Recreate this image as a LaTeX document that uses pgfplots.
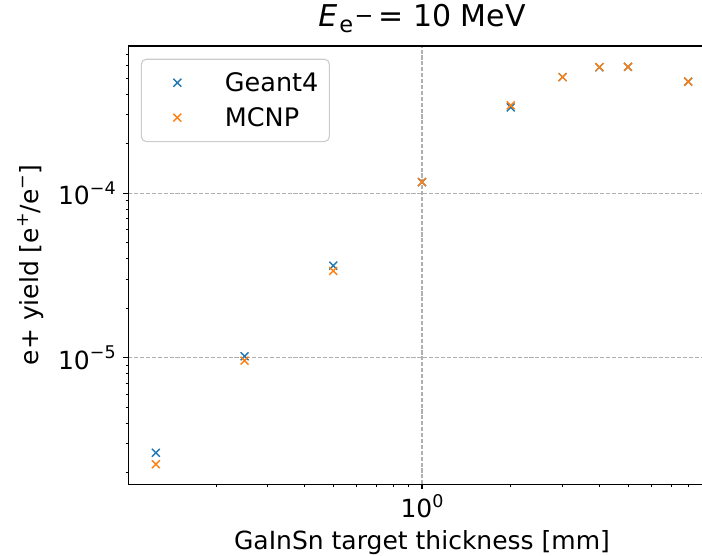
\documentclass[border=0pt]{standalone}
\usepackage{fontspec}
\setmainfont{DejaVu Sans}
\usepackage{pgfplots}
\pgfplotsset{compat=1.18}
\definecolor{tabblue}{HTML}{1F77B4}
\definecolor{taborange}{HTML}{FF7F0E}
\definecolor{gridgray}{HTML}{B0B0B0}
\definecolor{leggray}{HTML}{CCCCCC}
\newcommand{\fs}{\fontsize{25}{30}\selectfont}
\newcommand{\sups}[1]{\raisebox{0.42em}{\fontsize{17.5}{17.5}\selectfont #1}}
\pgfplotsset{
  myleg/.style={legend image code/.code={%
    \draw[mark repeat=2,mark phase=2,##1,/tikz/only marks] plot coordinates {(0pt,9pt) (25pt,9pt) (50pt,9pt)};
    \path[draw=none,fill=none] (0pt,9pt) -- (72.6pt,9pt);}}
}
\begin{document}
\begin{tikzpicture}
\begin{axis}[
  xmode=log, ymode=log,
  scale only axis, width=587.4pt, height=438.3pt,
  xmin=0.1008, xmax=9.92, ymin=1.698e-6, ymax=7.87e-4,
  xtick={1}, xticklabels={10\sups{0}},
  minor xtick={0.2,0.3,0.4,0.5,0.6,0.7,0.8,0.9,2,3,4,5,6,7,8,9},
  ytick={1e-5,1e-4}, yticklabels={10\sups{−5},10\sups{−4}},
  minor ytick={2e-6,3e-6,4e-6,5e-6,6e-6,7e-6,8e-6,9e-6,2e-5,3e-5,4e-5,5e-5,6e-5,7e-5,8e-5,9e-5,2e-4,3e-4,4e-4,5e-4,6e-4,7e-4},
  tick align=outside, tick pos=left,
  major tick length=4.9pt, minor tick length=2.8pt,
  every tick/.style={black, line width=1.1pt},
  every minor tick/.append style={line width=0.83pt},
  axis line style={line width=1.1pt},
  grid=major,
  major grid style={gridgray, line width=1.1pt, dash pattern=on 4.1pt off 1.8pt},
  ticklabel style={font=\fs, inner sep=0pt},
  xticklabel style={anchor=north, yshift=-4.9pt},
  yticklabel style={anchor=east, xshift=-7.5pt},
  title={{\itshape E}\kern2pt\raisebox{-0.22em}{\fontsize{22.5}{22.5}\selectfont e\kern1.5pt\raisebox{0.42em}{−}}\kern5pt= 10 MeV},
  title style={font=\fontsize{30}{36}\selectfont, at={(axis description cs:0.5,1.0319)}, anchor=base, inner sep=0pt},
  xlabel={GaInSn target thickness [mm]},
  xlabel style={font=\fs, at={(axis description cs:0.5,-0.1476)}, anchor=base, inner sep=0pt},
  ylabel={e+ yield [e\sups{+}/e\sups{−}]},
  ylabel style={font=\fs, at={(axis description cs:-0.1525,0.5)}, anchor=base, inner sep=0pt},
  legend style={at={(axis description cs:0,1)}, anchor=north west, xshift=12.5pt, yshift=-12.7pt,
    draw=leggray, line width=1.1pt, rounded corners=5pt, fill=white,
    inner xsep=11pt, inner ysep=13.5pt, row sep=14.5pt,
    font=\fontsize{25.5}{30}\selectfont, nodes={inner sep=0pt, anchor=base west}},
  legend cell align=left,
]
\addplot[only marks, mark=x, mark size=5.6pt, tabblue, line width=1.4pt, myleg] coordinates {
  (0.125,2.64e-6) (0.25,1.02e-5) (0.5,3.63e-5) (1,1.17e-4) (2,3.33e-4)
  (3,5.09e-4) (4,5.84e-4) (5,5.88e-4) (8,4.78e-4)};
\addlegendentry{Geant4}
\addplot[only marks, mark=x, mark size=5.6pt, taborange, line width=1.4pt, myleg] coordinates {
  (0.125,2.25e-6) (0.25,9.6e-6) (0.5,3.37e-5) (1,1.17e-4) (2,3.43e-4)
  (3,5.09e-4) (4,5.86e-4) (5,5.88e-4) (8,4.78e-4)};
\addlegendentry{MCNP}
\end{axis}
\pgfresetboundingbox
\useasboundingbox (-128.3pt,-71.7pt) rectangle (573.7pt,484.3pt);
\end{tikzpicture}
\end{document}
